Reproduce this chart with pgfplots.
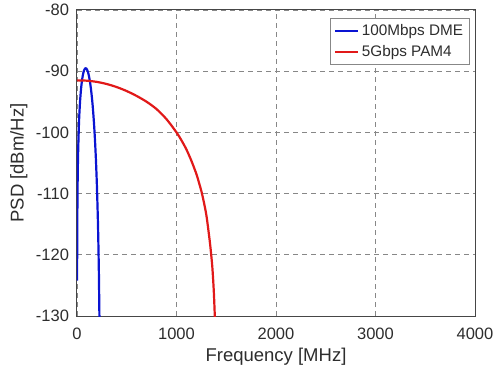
\documentclass[border=0pt]{standalone}
\usepackage{pgfplots}
\pgfplotsset{compat=1.18}
\usepackage{fontspec}
\setmainfont{Liberation Sans}
\setsansfont{Liberation Sans}
\definecolor{dmeblue}{RGB}{10,20,210}
\definecolor{pamred}{RGB}{225,25,25}
\definecolor{gridgray}{RGB}{135,135,135}
\definecolor{framegray}{RGB}{70,70,70}
\definecolor{txt}{RGB}{45,45,45}
\pgfplotstableread{
f psd
1 -124.2
2 -118.2
5 -110.25
10 -104.27
20 -98.40
30 -95.14
40 -93.00
50 -91.54
60 -90.54
70 -89.90
80 -89.57
90 -89.51
100 -89.69
110 -90.11
120 -90.78
130 -91.69
140 -92.86
150 -94.33
160 -96.11
170 -98.34
180 -101.04
190 -104.38
200 -108.66
210 -114.41
215 -118.3
220 -123.03
225 -129.67
226 -131.3
}\dme
\pgfplotstableread{
f psd
0 -91.5
100 -91.55
200 -91.75
300 -92.1
400 -92.6
500 -93.25
600 -94.05
700 -95.0
800 -96.2
900 -97.85
1000 -100.0
1050 -101.3
1100 -102.8
1150 -104.65
1200 -106.8
1225 -108.15
1250 -109.6
1275 -111.4
1300 -113.5
1320 -115.9
1340 -118.6
1360 -122.0
1375 -126.0
1385 -130.0
1388 -131.5
}\pam
\begin{document}
\begin{tikzpicture}
\begin{axis}[
  at={(0pt,0pt)}, anchor=south west,
  scale only axis,
  width=398pt, height=306pt,
  xmin=0, xmax=4000, ymin=-130, ymax=-80,
  xtick={0,1000,2000,3000,4000},
  ytick={-130,-120,-110,-100,-90,-80},
  /pgf/number format/assume math mode=true,
  scaled x ticks=false,
  xticklabel style={font=\fontsize{16.5}{19}\selectfont, color=txt, yshift=-8.5pt},
  yticklabel style={font=\fontsize{16.5}{19}\selectfont, color=txt, xshift=-4.5pt},
  xticklabel={\pgfmathprintnumber[1000 sep={}]{\tick}},
  yticklabel={\pgfmathprintnumber{\tick}},
  xlabel={Frequency [MHz]},
  ylabel={PSD [dBm/Hz]},
  every axis x label/.style={at={(axis description cs:0.5,-0.134)}, anchor=center,
    font=\fontsize{18.5}{21}\selectfont, color=txt},
  every axis y label/.style={at={(axis description cs:-0.146,0.5)}, anchor=center, rotate=90,
    font=\fontsize{18.5}{21}\selectfont, color=txt},
  axis line style={framegray, line width=1pt},
  tick style={draw=none},
  grid=major,
  major grid style={gridgray, line width=0.8pt, dash pattern=on 5pt off 4pt},
  clip=true,
  legend style={at={(0.9874,0.974)}, anchor=north east, draw=gridgray, line width=0.8pt,
    font=\fontsize{15.3}{18}\selectfont, inner sep=4pt, row sep=3pt,
    nodes={inner sep=2.5pt, text=txt}},
  legend cell align=left,
  legend image code/.code={\draw[#1, line width=2.2pt] (0pt,0pt) -- (23pt,0pt);},
]
\addplot[dmeblue, line width=2.2pt, line join=round, smooth, tension=0.4] table[x=f, y=psd] {\dme};
\addlegendentry{100Mbps DME}
\addplot[pamred, line width=2.2pt, line join=round, smooth, tension=0.5] table[x=f, y=psd] {\pam};
\addlegendentry{5Gbps PAM4}
\end{axis}
\pgfresetboundingbox
\path[use as bounding box] (-77pt,-51pt) rectangle (416pt,316pt);
\end{tikzpicture}
\end{document}
